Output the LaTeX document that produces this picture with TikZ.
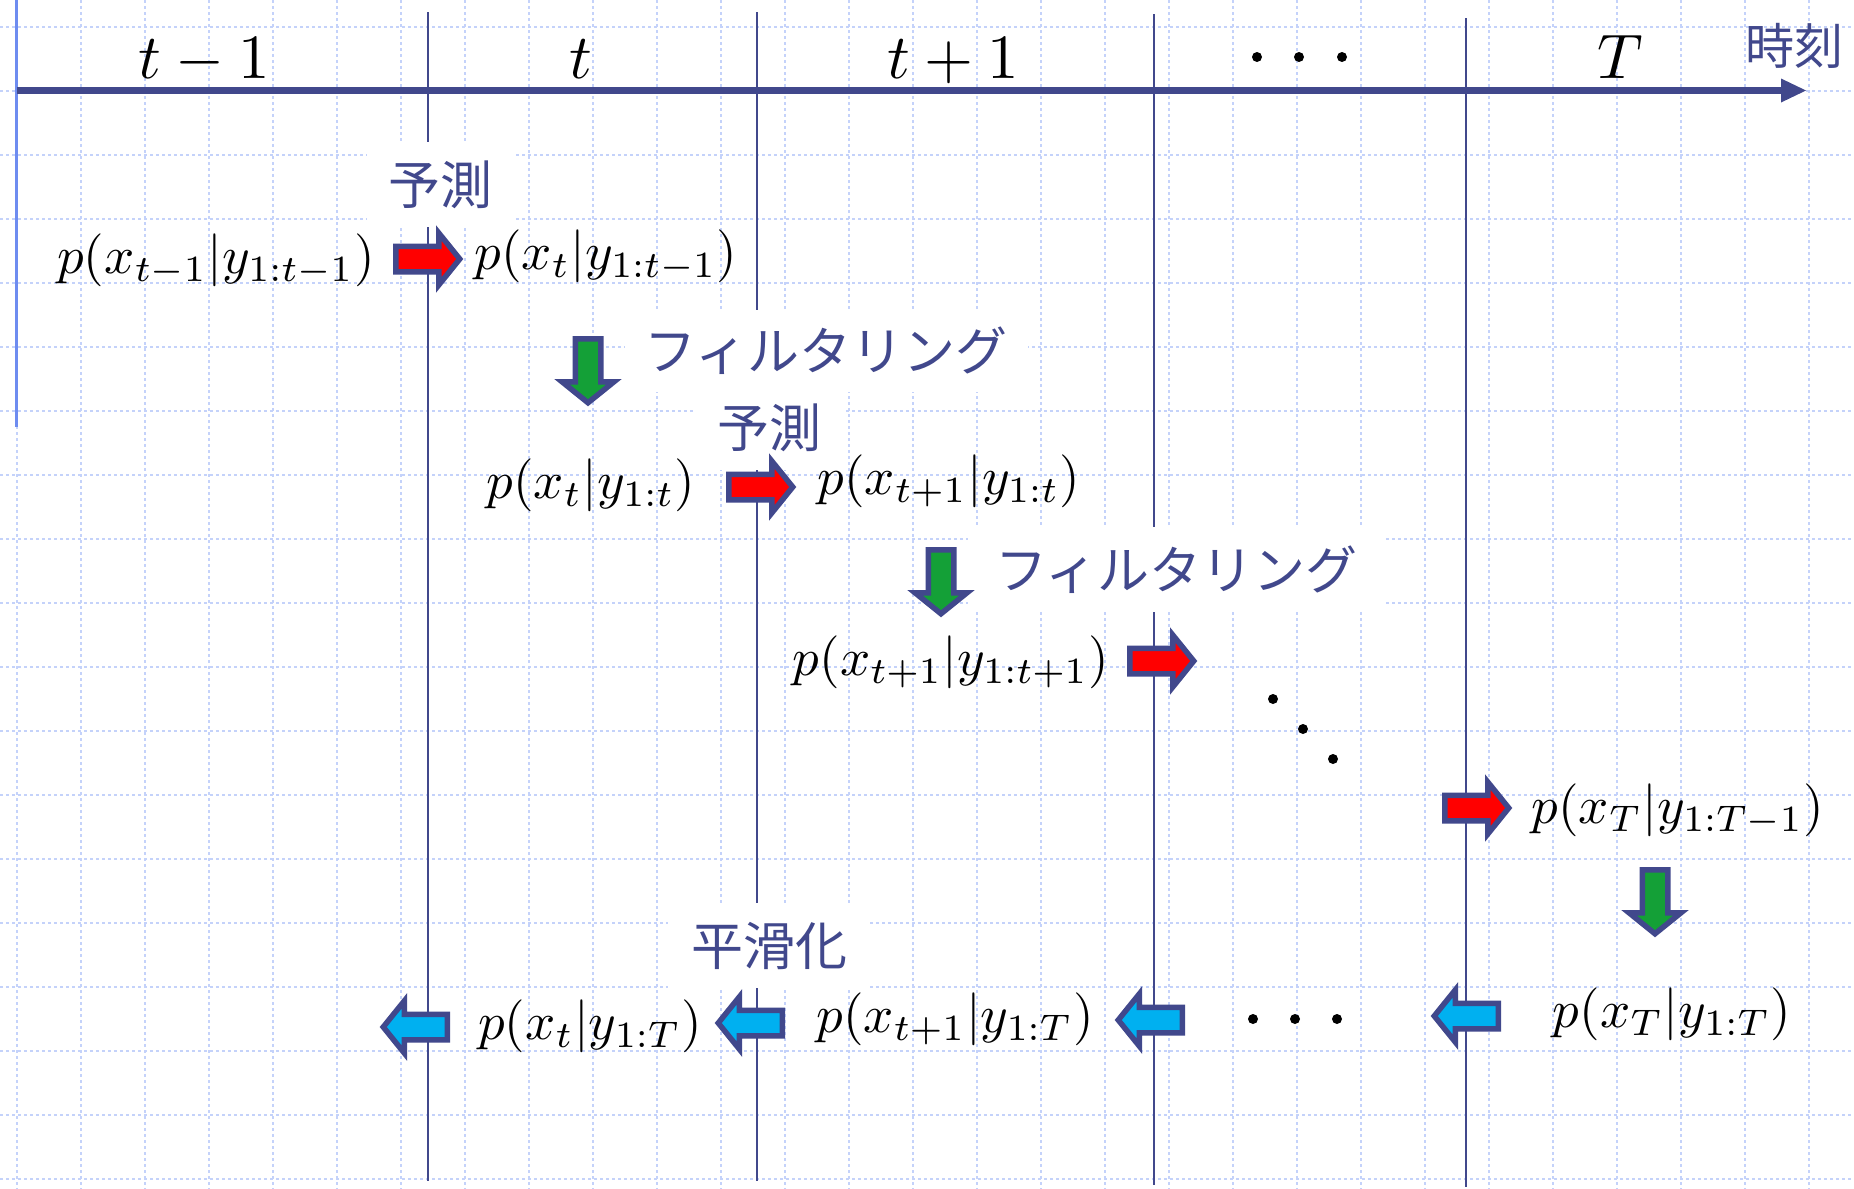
\documentclass[tikz,border=0pt]{standalone}
\usepackage{fontspec}
\usepackage{graphicx}
\newfontfamily\jpfont{Noto Sans CJK JP}
\definecolor{navy}{RGB}{65,72,140}
\definecolor{gridblue}{RGB}{196,210,250}
\definecolor{leftblue}{RGB}{110,140,240}
\definecolor{arrred}{RGB}{255,0,0}
\definecolor{arrgreen}{RGB}{20,160,55}
\definecolor{arrcyan}{RGB}{0,176,240}
\newcommand\mth[1]{\scalebox{2.645}{$#1$}}
\newcommand\tlab[1]{\scalebox{3.15}{$#1$}}
\newcommand\blockarr[4]{%
  \draw[blockarrow, fill=#1, shift={(#3,#4)}, rotate=#2]
    (0,-12.75) -- (43,-12.75) -- (43,-26) -- (64,0) -- (43,26) -- (43,12.75) -- (0,12.75) -- cycle;}
\begin{document}
\begin{tikzpicture}[x=0.5pt,y=-0.5pt,
  gridline/.style={gridblue, line width=1pt, dash pattern=on 1.6pt off 1.4pt},
  timeline/.style={navy, line width=1.35pt},
  jplabel/.style={fill=white, text=navy, font={\jpfont\fontsize{26}{30}\selectfont}, inner sep=0pt},
  mathlabel/.style={inner sep=0pt, text=black},
  toplabel/.style={inner sep=0pt, anchor=base},
  blockarrow/.style={draw=navy, line width=2.75pt, line join=miter},
  dot/.style={fill=black}
]
\useasboundingbox (0,0) rectangle (1854,1189);
\fill[white] (0,0) rectangle (1854,1189);
% grid
\foreach \i in {0,...,28} \draw[gridline] ({17+64*\i},0) -- ({17+64*\i},1189);
\foreach \j in {0,...,18} \draw[gridline] (0,{27+64*\j}) -- (1854,{27+64*\j});
% time boundaries
\draw[leftblue, line width=1.5pt] (16,0) -- (16,427);
\draw[timeline] (428,12) -- (428,1181);
\draw[timeline] (757,12) -- (757,1181);
\draw[timeline] (1154,14) -- (1154,1185);
\draw[timeline] (1466,18) -- (1466,1187);
% time axis
\draw[navy, line width=3.35pt] (17,90.5) -- (1785,90.5);
\fill[navy] (1781,78.5) -- (1806,90.5) -- (1781,102.5) -- cycle;
\node[text=navy, font={\jpfont\fontsize{24.5}{28}\selectfont}, inner sep=0pt] (jikoku) at (1794,46) {時刻};
% top labels
\node[toplabel] (tm1) at (204,78.5) {\tlab{t-1}};
\node[toplabel] (t0) at (581,78.5) {\tlab{t}};
\node[toplabel] (tp1) at (953,78.5) {\tlab{t+1}};
\node[toplabel] (tT) at (1620,78.5) {\tlab{T}};
\fill[dot] (1257,57) circle (5) (1299,57) circle (5) (1342,57) circle (5);
% japanese labels with white boxes
\node[jplabel, minimum width=73pt, minimum height=42.5pt] (pred1) at (440,184.5) {予測};
\node[jplabel, minimum width=201.5pt, minimum height=41pt] (filt1) at (826,351) {フィルタリング};
\node[jplabel, minimum width=74pt, minimum height=42pt] (pred2) at (769,428) {予測};
\node[jplabel, minimum width=208.5pt, minimum height=42.5pt] (filt2) at (1176.5,569.5) {フィルタリング};
\node[jplabel, minimum width=101pt, minimum height=42.5pt] (smooth) at (769,945.5) {平滑化};
% block arrows
\blockarr{arrred}{0}{395.75}{259}
\blockarr{arrred}{0}{728.75}{487}
\blockarr{arrred}{0}{1129.75}{661}
\blockarr{arrred}{0}{1444.75}{808}
\blockarr{arrgreen}{-90}{588}{338.75}
\blockarr{arrgreen}{-90}{941}{549.75}
\blockarr{arrgreen}{-90}{1655}{869.75}
\blockarr{arrcyan}{180}{447.25}{1027}
\blockarr{arrcyan}{180}{782.25}{1023}
\blockarr{arrcyan}{180}{1182.25}{1020}
\blockarr{arrcyan}{180}{1498.25}{1016}
% distributions
\node[mathlabel] (A) at (216,260) {\mth{p(x_{t-1}|y_{1:t-1})}};
\node[mathlabel] (B) at (606,256) {\mth{p(x_t|y_{1:t-1})}};
\node[mathlabel] (C) at (591,485) {\mth{p(x_t|y_{1:t})}};
\node[mathlabel] (D) at (949,481) {\mth{p(x_{t+1}|y_{1:t})}};
\node[mathlabel] (E) at (951,662) {\mth{p(x_{t+1}|y_{1:t+1})}};
\node[mathlabel] (F) at (1678,810) {\mth{p(x_T|y_{1:T-1})}};
\node[mathlabel] (G) at (590,1026) {\mth{p(x_t|y_{1:T})}};
\node[mathlabel] (H) at (955,1019) {\mth{p(x_{t+1}|y_{1:T})}};
\node[mathlabel] (I) at (1672,1014) {\mth{p(x_T|y_{1:T})}};
% dots
\fill[dot] (1273,699) circle (5) (1303,729) circle (5) (1333,759) circle (5);
\fill[dot] (1253,1019) circle (5) (1295,1019) circle (5) (1337,1019) circle (5);
\end{tikzpicture}
\end{document}
